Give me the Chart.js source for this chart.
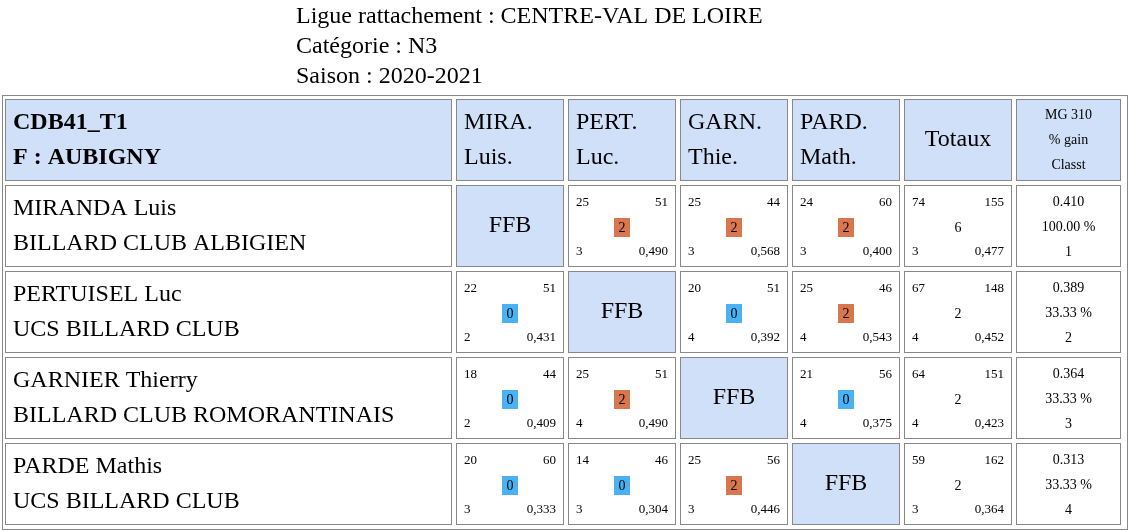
<!DOCTYPE html>
<html><head><meta charset="utf-8">
<script src="https://cdn.jsdelivr.net/npm/chart.js@4/dist/chart.umd.min.js"></script>
<style>html,body{margin:0;padding:0;background:#fff}#w{width:1130px;height:531px;position:relative}</style>
</head><body><div id="w"><canvas id="c"></canvas></div>
<script>
const titleLines = ["Ligue rattachement : CENTRE-VAL DE LOIRE","Catégorie : N3","Saison : 2020-2021"];
const headerTeam = ["CDB41_T1","F : AUBIGNY"];
const colHeaders = [["MIRA.","Luis."],["PERT.","Luc."],["GARN.","Thie."],["PARD.","Math."]];
const players = ["MIRANDA Luis","PERTUISEL Luc","GARNIER Thierry","PARDE Mathis"];
const clubs = ["BILLARD CLUB ALBIGIEN","UCS BILLARD CLUB","BILLARD CLUB ROMORANTINAIS","UCS BILLARD CLUB"];
// [points scored, innings, match points, best series, average]
const results = [
 [null,[25,51,2,3,"0,490"],[25,44,2,3,"0,568"],[24,60,2,3,"0,400"]],
 [[22,51,0,2,"0,431"],null,[20,51,0,4,"0,392"],[25,46,2,4,"0,543"]],
 [[18,44,0,2,"0,409"],[25,51,2,4,"0,490"],null,[21,56,0,4,"0,375"]],
 [[20,60,0,3,"0,333"],[14,46,0,3,"0,304"],[25,56,2,3,"0,446"],null]
];
const totals = [[74,155,6,3,"0,477"],[67,148,2,4,"0,452"],[64,151,2,4,"0,423"],[59,162,2,3,"0,364"]];
const summary = [["0.410","100.00 %","1"],["0.389","33.33 %","2"],["0.364","33.33 %","3"],["0.313","33.33 %","4"]];
const lastHeader = ["MG 310","% gain","Classt"];

const colEdges = [5,456,568,680,792,904,1016,1125];
const rowEdges = [99,185,271,357,443,529];
const GAP = 4;
const SERIF = '"Liberation Serif","DejaVu Serif",serif';
const HEAD_BG = '#cfe0f8', ORANGE = '#d8774f', BLUE = '#4ab2f2';

const tablePlugin = {
 id:'table',
 afterDraw(chart){
  const ctx = chart.ctx, xs = chart.scales.x, ys = chart.scales.y;
  const X = v=>xs.getPixelForValue(v), Y = v=>ys.getPixelForValue(v);
  ctx.save();
  ctx.textBaseline='middle';
  ctx.fillStyle='#000';
  ctx.font='24px '+SERIF; ctx.textAlign='left';
  titleLines.forEach((t,i)=>ctx.fillText(t,X(296),Y(17+30*i)));
  ctx.strokeStyle='#888'; ctx.lineWidth=1;
  ctx.strokeRect(X(2)+0.5,Y(95)+0.5,X(1128)-X(2)-1,Y(530)-Y(95)-1);
  const cell=(c,r,bg)=>{
   const x0=X(colEdges[c]), x1=X(colEdges[c+1]-GAP), y0=Y(rowEdges[r]), y1=Y(rowEdges[r+1]-GAP);
   if(bg){ctx.fillStyle=bg;ctx.fillRect(x0,y0,x1-x0,y1-y0);}
   ctx.strokeStyle='#888';ctx.strokeRect(x0+0.5,y0+0.5,x1-x0-1,y1-y0-1);
   ctx.fillStyle='#000';
   return {x0,x1,y0,y1,cx:(x0+x1)/2,cy:(y0+y1)/2};
  };
  const small=(c,v)=>{
   ctx.font='13px '+SERIF;
   ctx.textAlign='left'; ctx.fillText(String(v[0]),c.x0+8,c.y0+18); ctx.fillText(String(v[3]),c.x0+8,c.y0+67);
   ctx.textAlign='right'; ctx.fillText(String(v[1]),c.x1-8,c.y0+18); ctx.fillText(String(v[4]),c.x1-8,c.y0+67);
  };
  // header
  let h=cell(0,0,HEAD_BG);
  ctx.font='bold 24px '+SERIF; ctx.textAlign='left';
  ctx.fillText(headerTeam[0],h.x0+8,h.y0+24); ctx.fillText(headerTeam[1],h.x0+8,h.y0+59);
  colHeaders.forEach((l,i)=>{h=cell(i+1,0,HEAD_BG);ctx.font='24px '+SERIF;ctx.textAlign='left';
   ctx.fillText(l[0],h.x0+8,h.y0+24);ctx.fillText(l[1],h.x0+8,h.y0+59);});
  h=cell(5,0,HEAD_BG);ctx.font='24px '+SERIF;ctx.textAlign='center';ctx.fillText('Totaux',h.cx,h.cy);
  h=cell(6,0,HEAD_BG);ctx.font='14px '+SERIF;ctx.textAlign='center';
  lastHeader.forEach((t,i)=>ctx.fillText(t,h.cx,h.y0+16+25*i));
  for(let r=0;r<4;r++){
   let c=cell(0,r+1,null);
   ctx.font='24px '+SERIF;ctx.textAlign='left';
   ctx.fillText(players[r],c.x0+8,c.y0+24);ctx.fillText(clubs[r],c.x0+8,c.y0+59);
   for(let k=0;k<4;k++){
    const v=results[r][k];
    if(!v){c=cell(k+1,r+1,HEAD_BG);ctx.font='24px '+SERIF;ctx.textAlign='center';ctx.fillText('FFB',c.cx,c.cy);continue;}
    c=cell(k+1,r+1,null); small(c,v);
    ctx.fillStyle=v[2]>0?ORANGE:BLUE; ctx.fillRect(c.cx-8,c.y0+33,16,19);
    ctx.fillStyle='#000';ctx.font='14px '+SERIF;ctx.textAlign='center';ctx.fillText(String(v[2]),c.cx,c.y0+43);
   }
   c=cell(5,r+1,null); small(c,totals[r]);
   ctx.font='14px '+SERIF;ctx.textAlign='center';ctx.fillText(String(totals[r][2]),c.cx,c.y0+43);
   c=cell(6,r+1,null);ctx.font='14px '+SERIF;ctx.textAlign='center';
   summary[r].forEach((t,i)=>ctx.fillText(t,c.cx,c.y0+17+25*i));
  }
  ctx.restore();
 }
};
new Chart(document.getElementById('c'),{
 type:'scatter',
 data:{datasets:[{data:[]}]},
 options:{responsive:true,maintainAspectRatio:false,animation:false,
  layout:{padding:0},
  plugins:{legend:{display:false},tooltip:{enabled:false}},
  scales:{x:{type:'linear',min:0,max:1130,display:false},y:{type:'linear',min:0,max:531,reverse:true,display:false}}},
 plugins:[tablePlugin]
});
</script></body></html>
